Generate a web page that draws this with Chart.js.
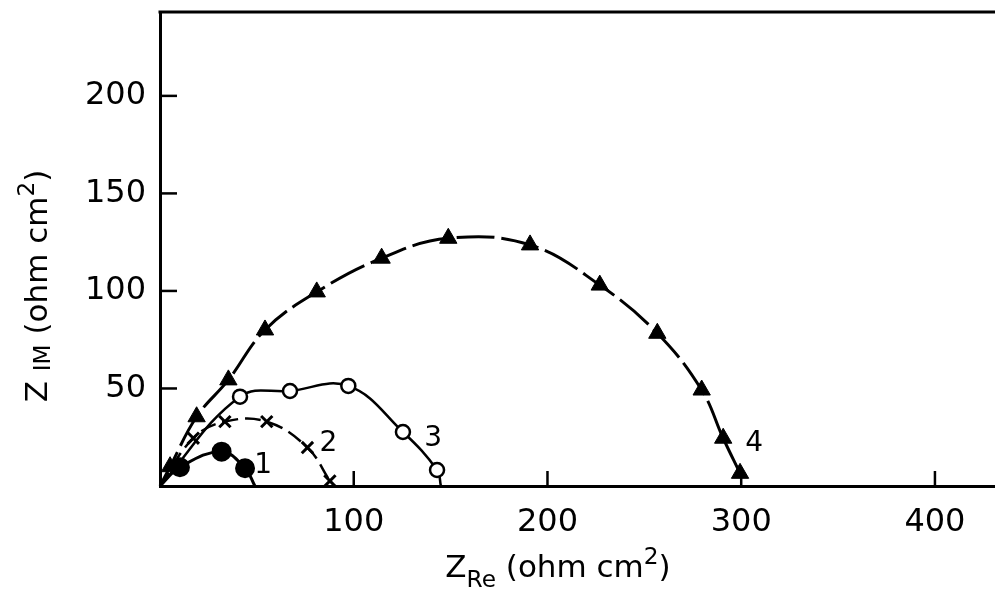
<!DOCTYPE html>
<html>
<head>
<meta charset="utf-8">
<style>
  html, body { margin: 0; padding: 0; background: #fff; overflow: hidden; }
  #wrap { width: 995px; height: 593px; }
</style>
</head>
<body>
<div id="wrap"><canvas id="nyquist"></canvas></div>
<script src="https://cdn.jsdelivr.net/npm/chart.js"></script>
<script>
    // impedance spectra, Z_Re / Z_IM in ohm cm^2
    const s1Re = [0, 10.3, 31.8, 43.9, 49];
    const s1Im = [0, 9.6, 17.6, 9.1, 0];

    const s2Re = [0, 17.2, 33.5, 55.1, 76.1, 87.7];
    const s2Im = [0, 24.5, 33, 33, 19.7, 2.6];

    const s3Re = [0, 41.3, 67.1, 97.2, 125.4, 143, 145];
    const s3Im = [0, 45.8, 48.7, 51.3, 27.7, 8.2, 0];

    const s4Re = [0, 5.2, 18.9, 35.3, 54.2, 80.9, 114.4, 148.8, 191, 227, 256.7, 279.6, 290.7, 299.4];
    const s4Im = [0, 9.9, 35.5, 54.4, 80, 99.5, 116.8, 127, 123.6, 103, 78.3, 49.2, 24.5, 6.5];

    const curveNames = ['1', '2', '3', '4'];
    const xTicks = [100, 200, 300, 400];
    const yTicks = [50, 100, 150, 200];

    const pts = (re, im) => re.map((v, i) => ({ x: v, y: im[i] }));
    // no marker where the curve meets the real axis
    const markerSize = r => ctx => (ctx.raw && ctx.raw.y === 0 ? 0 : r);

    const FONT = 'DejaVu Sans';

    // label spot for each curve: point index and pixel nudge
    const labelAt = [
        { idx: 3, dx: 18, dy: -3 },
        { idx: 4, dx: 21, dy: -4 },
        { idx: 5, dx: -4, dy: -31 },
        { idx: 12, dx: 31, dy: 6 }
    ];

    function drawTitle(ctx, parts, size) {
        let w = 0;
        parts.forEach(p => {
            ctx.font = (p.small ? size * 0.75 : size) + 'px "' + FONT + '"';
            w += ctx.measureText(p.t).width;
        });
        let x = -w / 2;
        parts.forEach(p => {
            ctx.font = (p.small ? size * 0.75 : size) + 'px "' + FONT + '"';
            ctx.fillText(p.t, x, p.shift || 0);
            x += ctx.measureText(p.t).width;
        });
    }

    // keep the plot box where it is: no extra room for edge labels
    const noPad = size => s => {
        if (s.isHorizontal()) s.height = size; else s.width = size;
        s.paddingTop = s.paddingBottom = s.paddingLeft = s.paddingRight = 0;
    };

    const frame = {
        id: 'frame',
        afterDraw(chart) {
            const { ctx, chartArea: a, scales } = chart;
            ctx.save();
            ctx.strokeStyle = '#000';
            ctx.lineWidth = 3;
            ctx.beginPath();
            ctx.moveTo(a.left - 1.5, a.top);
            ctx.lineTo(a.right, a.top);
            ctx.stroke();

            // inward tick marks
            ctx.lineWidth = 2.5;
            xTicks.forEach(v => {
                const px = scales.x.getPixelForValue(v);
                ctx.beginPath();
                ctx.moveTo(px, a.bottom);
                ctx.lineTo(px, a.bottom - 15);
                ctx.stroke();
            });
            yTicks.forEach(v => {
                const py = scales.y.getPixelForValue(v);
                ctx.beginPath();
                ctx.moveTo(a.left, py);
                ctx.lineTo(a.left + 17, py);
                ctx.stroke();
            });

            // curve numbers
            ctx.fillStyle = '#000';
            ctx.font = '28px "' + FONT + '"';
            ctx.textAlign = 'center';
            ctx.textBaseline = 'middle';
            curveNames.forEach((name, i) => {
                const el = chart.getDatasetMeta(i).data[labelAt[i].idx];
                ctx.fillText(name, el.x + labelAt[i].dx, el.y + labelAt[i].dy);
            });

            // axis titles
            ctx.textAlign = 'left';
            ctx.textBaseline = 'alphabetic';
            ctx.save();
            ctx.translate(558, 577);
            drawTitle(ctx, [
                { t: 'Z' }, { t: 'Re', small: true, shift: 10 },
                { t: ' (ohm cm' }, { t: '2', small: true, shift: -13 }, { t: ')' }
            ], 31);
            ctx.restore();

            ctx.save();
            ctx.translate(47, 286);
            ctx.rotate(-Math.PI / 2);
            drawTitle(ctx, [
                { t: 'Z ' }, { t: 'IM', small: true, shift: 3 },
                { t: ' (ohm cm' }, { t: '2', small: true, shift: -13 }, { t: ')' }
            ], 31);
            ctx.restore();
            ctx.restore();
        }
    };

    new Chart(document.getElementById('nyquist'), {
        type: 'scatter',
        data: {
            datasets: [
                {
                    data: pts(s1Re, s1Im),
                    showLine: true,
                    borderColor: '#000',
                    backgroundColor: '#000',
                    borderWidth: 3,
                    tension: 0.4,
                    pointStyle: 'circle',
                    pointRadius: markerSize(8.5)
                },
                {
                    data: pts(s2Re, s2Im),
                    showLine: true,
                    borderColor: '#000',
                    backgroundColor: '#000',
                    borderWidth: 2.5,
                    borderDash: [16, 7],
                    tension: 0.4,
                    pointStyle: 'crossRot',
                    pointRadius: markerSize(8),
                    pointBorderWidth: 3
                },
                {
                    data: pts(s3Re, s3Im),
                    showLine: true,
                    borderColor: '#000',
                    backgroundColor: '#000',
                    pointBackgroundColor: '#fff',
                    borderWidth: 2.5,
                    tension: 0.4,
                    pointStyle: 'circle',
                    pointRadius: markerSize(7),
                    pointBorderWidth: 2.5
                },
                {
                    data: pts(s4Re, s4Im),
                    showLine: true,
                    borderColor: '#000',
                    backgroundColor: '#000',
                    borderWidth: 3,
                    borderDash: [38, 7],
                    tension: 0.4,
                    pointStyle: 'triangle',
                    pointRadius: markerSize(10),
                    pointBorderWidth: 1
                }
            ]
        },
        options: {
            animation: false,
            responsive: true,
            maintainAspectRatio: false,
            clip: false,
            layout: { autoPadding: false, padding: { top: 12, right: 0, left: 0, bottom: 0 } },
            plugins: {
                legend: { display: false },
                tooltip: { enabled: false }
            },
            scales: {
                x: {
                    type: 'linear',
                    min: 0,
                    max: 431,
                    grid: { display: false, drawTicks: false },
                    border: { display: true, color: '#000', width: 3 },
                    ticks: {
                        stepSize: 100,
                        includeBounds: false,
                        padding: 17,
                        maxRotation: 0,
                        color: '#000',
                        font: { family: FONT, size: 32 },
                        callback: v => (v === 0 ? '' : v)
                    },
                    afterFit: noPad(107)
                },
                y: {
                    type: 'linear',
                    min: 0,
                    max: 243,
                    grid: { display: false, drawTicks: false },
                    border: { display: true, color: '#000', width: 3 },
                    ticks: {
                        stepSize: 50,
                        includeBounds: false,
                        padding: 14,
                        color: '#000',
                        font: { family: FONT, size: 32 },
                        callback: v => (v === 0 ? '' : v)
                    },
                    afterFit: noPad(160)
                }
            }
        },
        plugins: [frame]
    });
</script>
</body>
</html>
